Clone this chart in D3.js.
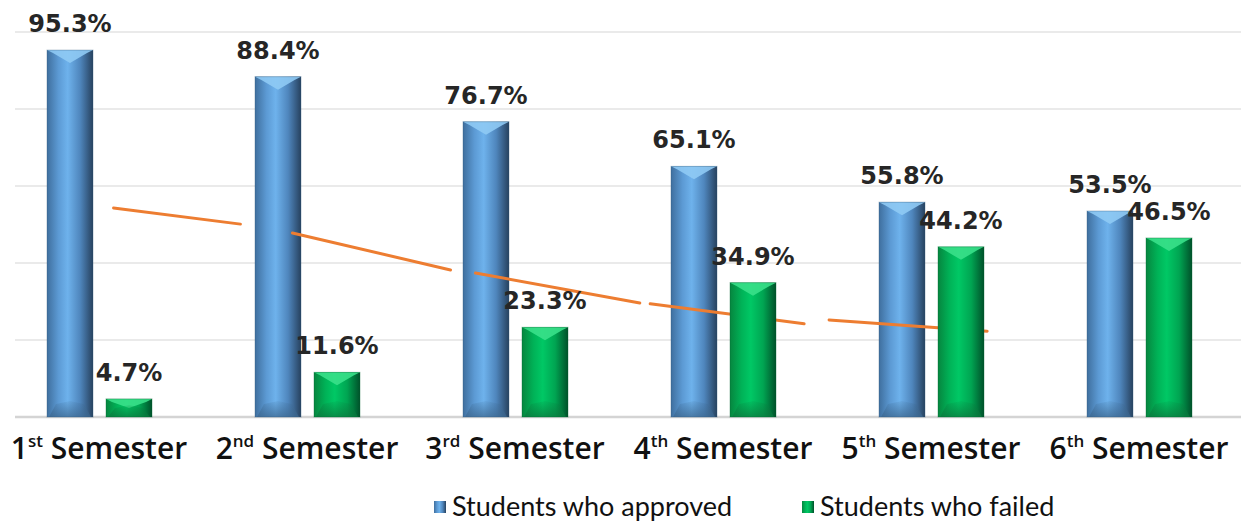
<!DOCTYPE html>
<html>
<head>
<meta charset="utf-8">
<script src="https://cdn.jsdelivr.net/npm/d3@7/dist/d3.min.js"></script>
<style>
  body { margin: 0; background: #fff; }
  svg { display: block; }
</style>
</head>
<body>
<svg id="chart" width="1241" height="522"></svg>
<script>
var categories = ["1st Semester", "2nd Semester", "3rd Semester", "4th Semester", "5th Semester", "6th Semester"];
var approved = [95.3, 88.4, 76.7, 65.1, 55.8, 53.5];
var failed = [4.7, 11.6, 23.3, 34.9, 44.2, 46.5];
var seriesNames = ["Students who approved", "Students who failed"];
var yTicks = [0, 20, 40, 60, 80, 100];

// orange trend strokes, as [category position, percent] pairs
var trendSegments = [
  [[0.07, 54.3], [0.68, 50.1]],
  [[0.93, 47.8], [1.69, 38.2]],
  [[1.81, 37.4], [2.60, 29.6]],
  [[2.65, 29.4], [3.39, 24.2]],
  [[3.51, 25.2], [4.27, 22.3]]
];

var svg = d3.select("#chart");
var width = +svg.attr("width");

var gridLeft = 15;
var gridRight = 1241;

var xScale = d3.scaleBand()
  .domain(categories)
  .range([-5, 1243])
  .padding(0);

var yScale = d3.scaleLinear()
  .domain([0, 100])
  .range([417, 32]);

var barW = 46;
var barOffsets = [-52, 7];

function center(i) { return xScale(categories[i]) + xScale.bandwidth() / 2; }

var trendX = d3.scaleLinear().domain([0, 5]).range([center(0), center(5)]);

// gradients for the bevelled bars
var defs = svg.append("defs");
var palettes = [
  { body: ["#3f6f9e", "#5c9ad4", "#6eb2ec", "#4f86bd", "#27425f"], top: "#8fcaf4", bottom: "#3d6890" },
  { body: ["#06863f", "#00b257", "#00c865", "#00a552", "#00512a"], top: "#38e08a", bottom: "#0a7a3e" }
];
palettes.forEach(function (p, k) {
  var g = defs.append("linearGradient").attr("id", "body" + k)
    .attr("x1", "0").attr("x2", "1").attr("y1", "0").attr("y2", "0");
  var stops = [0, 0.25, 0.45, 0.72, 1];
  p.body.forEach(function (c, j) {
    g.append("stop").attr("offset", stops[j]).attr("stop-color", c);
  });
  var gb = defs.append("linearGradient").attr("id", "bottom" + k)
    .attr("x1", "0").attr("x2", "0").attr("y1", "0").attr("y2", "1");
  gb.append("stop").attr("offset", 0).attr("stop-color", p.bottom).attr("stop-opacity", 0.1);
  gb.append("stop").attr("offset", 1).attr("stop-color", p.bottom).attr("stop-opacity", 0.75);
});

// gridlines
svg.append("g").selectAll("line")
  .data(yTicks)
  .enter().append("line")
  .attr("x1", gridLeft).attr("x2", gridRight)
  .attr("y1", function (d) { return yScale(d); })
  .attr("y2", function (d) { return yScale(d); })
  .attr("stroke", function (d) { return d === 0 ? "#d4d4d4" : "#e3e3e3"; })
  .attr("stroke-width", function (d) { return d === 0 ? 2.5 : 1.5; });

function drawBars(values, k) {
  var g = svg.append("g").attr("class", "series" + k);
  values.forEach(function (v, i) {
    var x = center(i) + barOffsets[k];
    var y = yScale(v);
    var y0 = yScale(0);
    var h = y0 - y;
    var b = Math.min(13, h / 2);
    var bar = g.append("g");
    bar.append("rect")
      .attr("x", x).attr("y", y).attr("width", barW).attr("height", h)
      .attr("fill", "url(#body" + k + ")");
    // top chevron
    bar.append("polygon")
      .attr("points", [[x, y], [x + barW, y], [x + barW - 6, y + 3], [x + barW / 2, y + b], [x + 6, y + 3]].join(" "))
      .attr("fill", palettes[k].top)
      .attr("opacity", 0.9);
    // bottom bevel
    bar.append("polygon")
      .attr("points", [[x + 2, y0], [x + barW - 2, y0], [x + barW - 9, y0 - b], [x + barW / 2, y0 - b - 3], [x + 9, y0 - b]].join(" "))
      .attr("fill", "url(#bottom" + k + ")");
    bar.append("rect")
      .attr("x", x).attr("y", y).attr("width", barW).attr("height", h)
      .attr("fill", "none")
      .attr("stroke", k === 0 ? "#2f5678" : "#04602f")
      .attr("stroke-opacity", 0.35)
      .attr("stroke-width", 1);
  });
}

drawBars(approved, 0);

svg.append("g").selectAll("line")
  .data(trendSegments)
  .enter().append("line")
  .attr("x1", function (d) { return trendX(d[0][0]); })
  .attr("y1", function (d) { return yScale(d[0][1]); })
  .attr("x2", function (d) { return trendX(d[1][0]); })
  .attr("y2", function (d) { return yScale(d[1][1]); })
  .attr("stroke", "#ed7d31")
  .attr("stroke-width", 3)
  .attr("stroke-linecap", "round");

drawBars(failed, 1);

// value labels
[approved, failed].forEach(function (values, k) {
  svg.append("g").selectAll("text")
    .data(values)
    .enter().append("text")
    .attr("x", function (d, i) { return center(i) + barOffsets[k] + barW / 2; })
    .attr("y", function (d) { return yScale(d) - 18; })
    .attr("text-anchor", "middle")
    .attr("font-family", "DejaVu Sans")
    .attr("font-weight", "bold")
    .attr("font-size", 24)
    .attr("fill", "#262626")
    .text(function (d) { return d.toFixed(1) + "%"; });
});

// category labels with superscript ordinals
var catText = svg.append("g").selectAll("text")
  .data(categories)
  .enter().append("text")
  .attr("x", function (d, i) { return center(i); })
  .attr("y", 459)
  .attr("text-anchor", "middle")
  .attr("font-family", "Open Sans")
  .attr("font-weight", 600)
  .attr("font-size", 30)
  .attr("fill", "#111");
catText.each(function (d) {
  var m = d.match(/^(\d)(st|nd|rd|th) (.*)$/);
  var t = d3.select(this);
  t.append("tspan").text(m[1]);
  t.append("tspan").attr("font-size", 17).attr("dy", -12).text(m[2]);
  t.append("tspan").attr("dy", 12).text("\u00a0" + m[3]);
});

// legend
var legend = svg.append("g").attr("transform", "translate(434,516)");
var legendX = [0, 368];
seriesNames.forEach(function (name, k) {
  var item = legend.append("g").attr("transform", "translate(" + legendX[k] + ",0)");
  item.append("rect")
    .attr("x", 0).attr("y", -15).attr("width", 12).attr("height", 12)
    .attr("fill", "url(#body" + k + ")");
  item.append("text")
    .attr("x", 18).attr("y", 0)
    .attr("font-family", "Lato")
    .attr("font-size", 27)
    .attr("fill", "#111")
    .text(name);
});
</script>
</body>
</html>
